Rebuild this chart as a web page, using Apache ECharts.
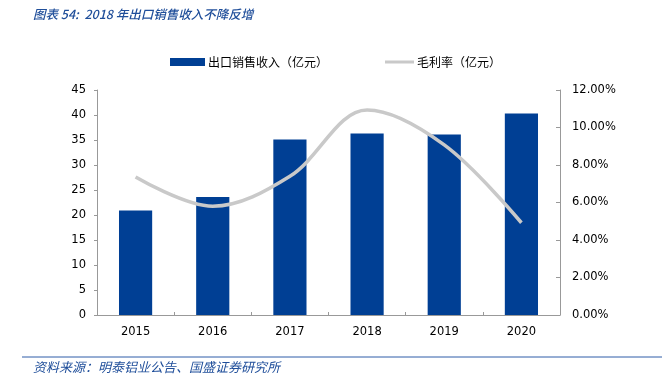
<!DOCTYPE html>
<html><head><meta charset="utf-8">
<script src="https://cdn.jsdelivr.net/npm/echarts@6/dist/echarts.min.js"></script>
<style>html,body{margin:0;padding:0;background:#fff}#c{width:662px;height:386px}</style>
</head><body><div id="c"></div>
<script>
const categories = ['2015','2016','2017','2018','2019','2020'];
const salesValues = [20.9, 23.6, 35.1, 36.3, 36.1, 40.3];
const marginValues = [7.36, 5.8, 7.4, 10.93, 9.07, 4.92];
const leftTicks = [0, 45, 5];
const rightTicks = [0, 12, 2];
const titleText = '图表 54:  2018 年出口销售收入不降反增';
const sourceText = '资料来源：明泰铝业公告、国盛证券研究所';
const salesName = '出口销售收入（亿元）';
const marginName = '毛利率（亿元）';

const chart = echarts.init(document.getElementById('c'));
const tickFont = {fontFamily:'DejaVu Sans', fontSize:11.5, color:'#000'};
chart.setOption({
  animation:false,
  title:[{text:titleText,left:30,top:6,padding:[2,3],textStyle:{fontFamily:'Noto Sans CJK SC',fontStyle:'italic',fontWeight:500,fontSize:12.5,color:'#1F4E9A'}},
         {text:sourceText,left:30,top:361,padding:[0,3],textStyle:{fontFamily:'Noto Sans CJK SC',fontStyle:'italic',fontWeight:'normal',fontSize:13,color:'#1F4E9A'}}],
  graphic:[{type:'line',shape:{x1:22,y1:357,x2:662,y2:357},style:{stroke:'#2E5DA8',lineWidth:1}}],
  legend:[{data:[{name:salesName,icon:'rect'}],left:170,top:56,padding:0,itemWidth:35,itemHeight:8,itemGap:4,textStyle:{fontFamily:'Noto Sans CJK SC',fontSize:12,color:'#000',padding:[0,0,0,-2]}},
          {data:[{name:marginName,icon:'rect'}],left:385,top:56,padding:0,itemWidth:29,itemHeight:3,itemGap:4,textStyle:{fontFamily:'Noto Sans CJK SC',fontSize:12,color:'#000',padding:[0,0,0,-2]}}],
  grid:{left:97,right:102,top:90,bottom:71},
  xAxis:{type:'category',data:categories,axisLine:{lineStyle:{color:'#999'}},
    axisTick:{show:true,inside:true,length:3,lineStyle:{color:'#999'}},
    axisLabel:{...tickFont,margin:11}},
  yAxis:[{type:'value',min:leftTicks[0],max:leftTicks[1],interval:leftTicks[2],splitLine:{show:false},
    axisLine:{show:true,lineStyle:{color:'#999'}},axisTick:{show:true,length:3,lineStyle:{color:'#999'}},axisLabel:{...tickFont,margin:11}},
    {type:'value',min:rightTicks[0],max:rightTicks[1],interval:rightTicks[2],splitLine:{show:false},
    axisLine:{show:true,lineStyle:{color:'#999'}},axisTick:{show:true,inside:true,length:4,lineStyle:{color:'#999'}},
    axisLabel:{...tickFont,margin:12,formatter:v=>v.toFixed(2)+'%'}}],
  series:[{name:salesName,type:'bar',data:salesValues,barWidth:'43%',itemStyle:{color:'#003F94'}},
    {name:marginName,type:'line',yAxisIndex:1,data:marginValues,smooth:0.35,symbol:'none',lineStyle:{color:'#C9C9C9',width:3.5},itemStyle:{color:'#C9C9C9'}}]
});
</script></body></html>
